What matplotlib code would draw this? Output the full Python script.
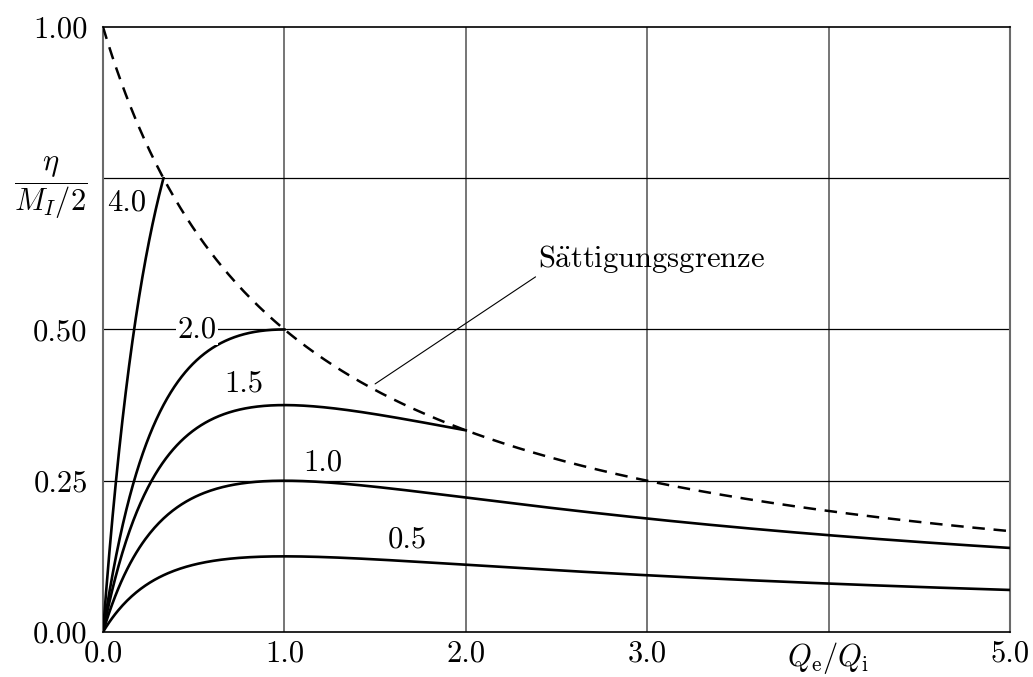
import numpy as np
import matplotlib
matplotlib.use("Agg")
import matplotlib.pyplot as plt

plt.rcParams["font.family"] = ["cmr10", "DejaVu Serif"]
plt.rcParams["mathtext.fontset"] = "cm"
plt.rcParams["axes.formatter.use_mathtext"] = True

# Gain parameter of each efficiency curve and where its label sits
gains = [0.5, 1.0, 1.5, 2.0, 4.0]
gain_labels = ["0.5", "1.0", "1.5", "2.0", "4.0"]
label_x = [1.68, 1.21, 0.777, 0.52, 0.13]
label_y = [0.152, 0.28, 0.41, 0.50, 0.71]
label_boxed = [False, False, False, True, False]

x_ticks = [0, 1, 2, 3, 4, 5]
x_ticklabels = ["0.0", "1.0", "2.0", "3.0", r"$Q_\mathrm{e}/Q_\mathrm{i}$", "5.0"]
y_ticks = [0.0, 0.25, 0.5, 0.75, 1.0]
y_ticklabels = ["0.00", "0.25", "0.50", "", "1.00"]
y_axis_label = r"$\dfrac{\eta}{M_I/2}$"
y_axis_label_at = 0.75

x_max = 5.0

fig = plt.figure(figsize=(10.33, 6.77), dpi=100)
ax = fig.add_axes([0.0997, 0.0665, 0.878, 0.8937])

GRAY = "#6a6a6a"

# grid: grey verticals, black horizontals
for xv in x_ticks[1:-1]:
    ax.axvline(xv, color=GRAY, lw=1.3, zorder=1)
for yv in y_ticks[1:-1]:
    ax.axhline(yv, color="black", lw=0.9, zorder=1)

# saturation limit
xs = np.linspace(0, x_max, 600)
ax.plot(xs, 1.0 / (1.0 + xs), color="black", lw=1.8,
        dashes=(5, 3.5), zorder=3, solid_capstyle="butt")

# efficiency curves, each ends where it meets the saturation limit
for g in gains:
    x_end = x_max if g <= 1 else min(x_max, 1.0 / (g - 1.0))
    xc = np.linspace(0, x_end, 600)
    ax.plot(xc, g * xc / (1.0 + xc) ** 2, color="black", lw=1.9, zorder=3)

for txt, lx, ly, boxed in zip(gain_labels, label_x, label_y, label_boxed):
    kw = {}
    if boxed:
        kw["bbox"] = dict(facecolor="white", edgecolor="none", pad=1.0)
    ax.text(lx, ly, txt, fontsize=22, ha="center", va="center", zorder=4, **kw)

ax.annotate(r"$\mathrm{S\ddot{a}ttigungsgrenze}$", xy=(1.5, 0.41), xytext=(2.4, 0.59),
            fontsize=22, ha="left", va="bottom",
            arrowprops=dict(arrowstyle="-", color="black", lw=0.8,
                            shrinkA=0, shrinkB=0, relpos=(0, 0)),
            zorder=4)

# quantity on the vertical axis, written in place of the 0.75 tick label
ax.annotate(y_axis_label, xy=(0, y_axis_label_at), xycoords=ax.get_yaxis_transform(),
            xytext=(-11, 5), textcoords="offset points",
            ha="right", va="center_baseline", fontsize=22, annotation_clip=False)

ax.set_xlim(0, x_max)
ax.set_ylim(0, 1)
ax.set_xticks(x_ticks)
ax.set_xticklabels(x_ticklabels)
ax.set_yticks(y_ticks)
ax.set_yticklabels(y_ticklabels)
ax.tick_params(length=0, labelsize=22)
ax.tick_params(axis="x", pad=6)
ax.tick_params(axis="y", pad=11)

for side in ("top", "bottom"):
    ax.spines[side].set_color("black")
    ax.spines[side].set_linewidth(1.2)
for side in ("left", "right"):
    ax.spines[side].set_color(GRAY)
    ax.spines[side].set_linewidth(1.5)

fig.savefig("out.png", dpi=100)
